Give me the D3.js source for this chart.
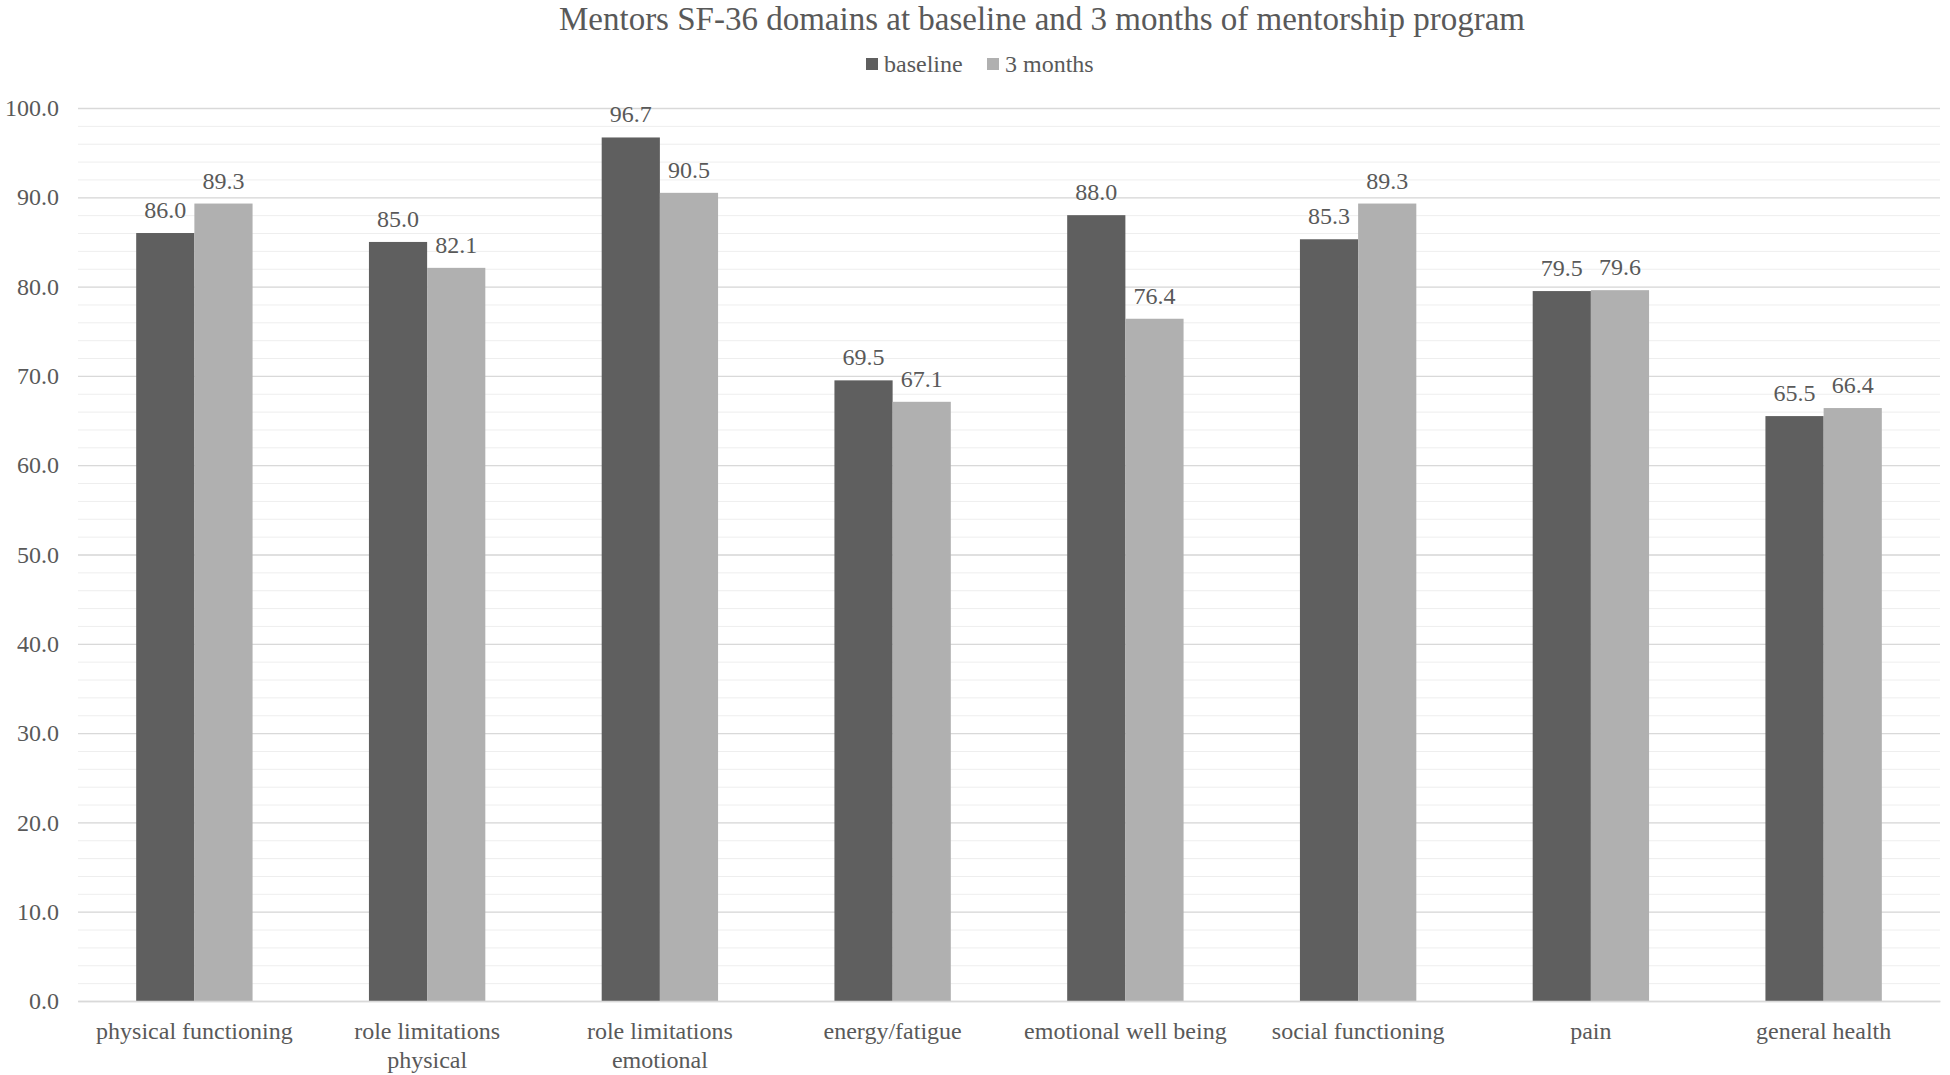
<!DOCTYPE html>
<html>
<head>
<meta charset="utf-8">
<script src="https://cdn.jsdelivr.net/npm/d3@7"></script>
<style>
  body { margin: 0; background: #fff; }
  text { font-family: "Liberation Serif", "Times New Roman", serif; fill: #595959; }
</style>
</head>
<body>
<div class="svg-container"></div>
<script>
var categories = ["physical functioning", "role limitations physical", "role limitations emotional",
    "energy/fatigue", "emotional well being", "social functioning", "pain", "general health"];
var seriesNames = ["baseline", "3 months"];
var baseline = [86.0, 85.0, 96.7, 69.5, 88.0, 85.3, 79.5, 65.5];
var threeMonths = [89.3, 82.1, 90.5, 67.1, 76.4, 89.3, 79.6, 66.4];
var yTicks = [0, 10, 20, 30, 40, 50, 60, 70, 80, 90, 100];
var colors = ["#5f5f5f", "#b0b0b0"];

var width = 1950, height = 1075;
var margin = { top: 108, right: 10, bottom: 74, left: 78 };
var chartWidth = width - margin.left - margin.right;
var chartHeight = height - margin.top - margin.bottom;

var svg = d3.select(".svg-container")
    .append("svg")
    .attr("width", width)
    .attr("height", height);

var g = svg.append("g")
    .attr("transform", `translate(${margin.left}, ${margin.top})`);

var xScale = d3.scaleBand()
    .domain(categories)
    .range([0, chartWidth]);

// gap width 200%: two bars fill half of each band
var xInner = d3.scaleBand()
    .domain(seriesNames)
    .range([0, xScale.bandwidth()])
    .paddingOuter(1);

var yScale = d3.scaleLinear()
    .domain([0, 100])
    .range([chartHeight, 0]);

// minor gridlines every 2
g.append("g")
    .attr("class", "grid-minor")
    .call(d3.axisLeft(yScale).tickValues(d3.range(0, 101, 2)).tickSize(-chartWidth).tickFormat(""))
    .call(s => s.select(".domain").remove())
    .selectAll("line").attr("stroke", "#eeeeee");

// major gridlines
g.append("g")
    .attr("class", "grid")
    .call(d3.axisLeft(yScale).tickValues(yTicks).tickSize(-chartWidth).tickFormat(""))
    .call(s => s.select(".domain").remove())
    .selectAll("line").attr("stroke", "#d9d9d9").attr("stroke-width", 1.3);

// y axis labels
var yAxis = g.append("g")
    .call(d3.axisLeft(yScale).tickValues(yTicks).tickSize(0).tickPadding(19).tickFormat(d3.format(".1f")));
yAxis.select(".domain").remove();
yAxis.selectAll("text")
    .attr("font-size", 24)
    .attr("font-family", null)
    .attr("fill", null);

var data = categories.map((c, i) => ({ category: c, values: [baseline[i], threeMonths[i]] }));

var groups = g.selectAll(".cat")
    .data(data)
    .enter().append("g")
    .attr("class", "cat")
    .attr("transform", d => `translate(${xScale(d.category)}, 0)`);

groups.selectAll("rect")
    .data(d => d.values.map((v, j) => ({ series: seriesNames[j], value: v, j: j })))
    .enter().append("rect")
    .attr("x", d => xInner(d.series))
    .attr("width", xInner.bandwidth())
    .attr("y", d => yScale(d.value))
    .attr("height", d => chartHeight - yScale(d.value))
    .attr("fill", d => colors[d.j]);

groups.selectAll(".value")
    .data(d => d.values.map((v, j) => ({ series: seriesNames[j], value: v })))
    .enter().append("text")
    .attr("class", "value")
    .attr("x", d => xInner(d.series) + xInner.bandwidth() / 2)
    .attr("y", d => yScale(d.value) - 15)
    .attr("text-anchor", "middle")
    .attr("font-size", 24)
    .attr("fill", "#404040")
    .text(d => d.value.toFixed(1));

// x axis labels, wrapped to the band width
var xAxis = g.append("g")
    .attr("transform", `translate(0, ${chartHeight})`)
    .call(d3.axisBottom(xScale).tickSize(0).tickPadding(21));
xAxis.select(".domain").attr("stroke", "#d9d9d9").attr("stroke-width", 1.3);
xAxis.selectAll("text")
    .attr("font-size", 24)
    .attr("font-family", null)
    .attr("fill", null)
    .call(wrap, 215);

function wrap(texts, maxWidth) {
    texts.each(function() {
        var text = d3.select(this),
            words = text.text().split(" "),
            y = text.attr("y"),
            dy = parseFloat(text.attr("dy")),
            line = [],
            lineNumber = 0,
            tspan = text.text(null).append("tspan").attr("x", 0).attr("y", y).attr("dy", dy + "em");
        words.forEach(function(word) {
            line.push(word);
            tspan.text(line.join(" "));
            if (tspan.node().getComputedTextLength() > maxWidth && line.length > 1) {
                line.pop();
                tspan.text(line.join(" "));
                line = [word];
                tspan = text.append("tspan").attr("x", 0).attr("y", y)
                    .attr("dy", ++lineNumber * 1.2 + dy + "em").text(word);
            }
        });
    });
}

// title
svg.append("text")
    .attr("x", 1042)
    .attr("y", 30)
    .attr("text-anchor", "middle")
    .attr("font-size", 33)
    .attr("fill", "#646464")
    .text("Mentors SF-36 domains at baseline and 3 months of mentorship program");

// legend
var legend = svg.append("g")
    .attr("transform", `translate(866, 64)`);
var legendX = [0, 121];
seriesNames.forEach(function(name, i) {
    var item = legend.append("g").attr("transform", `translate(${legendX[i]}, 0)`);
    item.append("rect")
        .attr("x", 0).attr("y", -6)
        .attr("width", 12).attr("height", 12)
        .attr("fill", colors[i]);
    item.append("text")
        .attr("x", 18).attr("y", 0)
        .attr("dy", "0.35em")
        .attr("font-size", 24)
        .text(name);
});
</script>
</body>
</html>
